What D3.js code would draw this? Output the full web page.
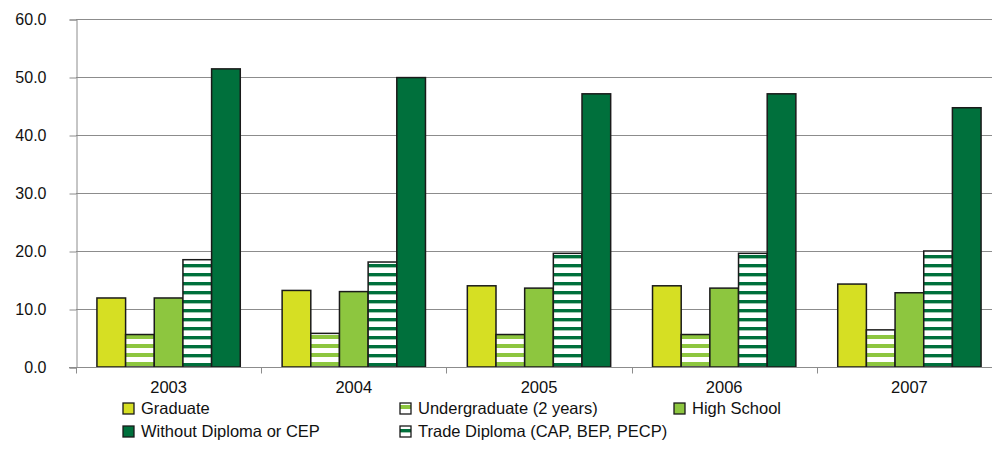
<!DOCTYPE html>
<html>
<head>
<meta charset="utf-8">
<script src="https://cdn.jsdelivr.net/npm/d3@7"></script>
<style>
  body { margin: 0; background: #fff; }
  text { font-family: "Liberation Sans", Arial, sans-serif; fill: #111; }
</style>
</head>
<body>
<script>
// Data
const years = ["2003", "2004", "2005", "2006", "2007"];
const series = ["Graduate", "Undergraduate (2 years)", "High School", "Trade Diploma (CAP, BEP, PECP)", "Without Diploma or CEP"];
const graduate = [11.9, 13.2, 14.0, 14.0, 14.3];
const undergraduate = [5.6, 5.8, 5.6, 5.6, 6.4];
const highSchool = [11.9, 13.0, 13.6, 13.6, 12.8];
const tradeDiploma = [18.5, 18.1, 19.6, 19.6, 20.0];
const withoutDiploma = [51.4, 49.9, 47.1, 47.1, 44.7];
const yTicks = [0, 10, 20, 30, 40, 50, 60];

const values = [graduate, undergraduate, highSchool, tradeDiploma, withoutDiploma];

const width = 992, height = 458;
const svg = d3.select("body").append("svg")
    .attr("width", width)
    .attr("height", height);

// Patterns for the striped series
const defs = svg.append("defs");
const p1 = defs.append("pattern").attr("id", "stripeLight")
    .attr("patternUnits", "userSpaceOnUse").attr("width", 9).attr("height", 9);
p1.append("rect").attr("width", 9).attr("height", 9).attr("fill", "#fff");
p1.append("rect").attr("y", 2).attr("width", 9).attr("height", 4).attr("fill", "#8dc63f");

const p2 = defs.append("pattern").attr("id", "stripeDark")
    .attr("patternUnits", "userSpaceOnUse").attr("width", 9).attr("height", 9);
p2.append("rect").attr("width", 9).attr("height", 9).attr("fill", "#fff");
p2.append("rect").attr("y", 3).attr("width", 9).attr("height", 3).attr("fill", "#00703c");
p2.append("rect").attr("y", 6).attr("width", 9).attr("height", 1).attr("fill", "#9fc9b0");

const fills = ["#d6df23", "url(#stripeLight)", "#8dc63f", "url(#stripeDark)", "#00703c"];

// Scales
const x0 = d3.scaleBand().domain(years).range([76, 1002]).padding(0);
const x1 = d3.scaleBand().domain(series).range([0, x0.bandwidth()])
    .paddingInner(0).paddingOuter(0.73);
const y = d3.scaleLinear().domain([0, 60]).range([367, 19]);

// Grid lines
svg.append("g").selectAll("line")
    .data(yTicks.filter(d => d > 0))
    .enter().append("line")
    .attr("x1", 76).attr("x2", 1002)
    .attr("y1", d => Math.round(y(d)) + 0.5)
    .attr("y2", d => Math.round(y(d)) + 0.5)
    .attr("stroke", "#8c8c8c").attr("stroke-width", 1);

// Y axis
const yAxis = svg.append("g")
    .attr("transform", "translate(76.5,0.5)")
    .call(d3.axisLeft(y).tickValues(yTicks).tickFormat(d3.format(".1f")).tickSize(7).tickPadding(23));
yAxis.select(".domain").attr("stroke", "#8c8c8c");
yAxis.selectAll(".tick line").attr("stroke", "#8c8c8c");
yAxis.selectAll("text").style("font-size", "16px").attr("fill", "#111");

// Bars
const groups = svg.append("g").selectAll("g")
    .data(years)
    .enter().append("g")
    .attr("transform", d => `translate(${x0(d)},0)`);

groups.selectAll("rect")
    .data((d, i) => series.map((s, j) => ({ s: s, j: j, v: values[j][i] })))
    .enter().append("rect")
    .attr("x", d => x1(d.s))
    .attr("y", d => y(d.v))
    .attr("width", x1.bandwidth())
    .attr("height", d => y(0) - y(d.v))
    .attr("fill", d => fills[d.j])
    .attr("stroke", "#1a1a1a")
    .attr("stroke-width", 1.5);

// X axis
const xAxis = svg.append("g")
    .attr("transform", "translate(0,367.5)");
xAxis.append("line")
    .attr("x1", 69).attr("x2", 1002)
    .attr("stroke", "#8c8c8c");
xAxis.selectAll(".xtick")
    .data(years)
    .enter().append("line")
    .attr("class", "xtick")
    .attr("x1", d => Math.round(x0(d)) + 0.5)
    .attr("x2", d => Math.round(x0(d)) + 0.5)
    .attr("y1", 0).attr("y2", 6)
    .attr("stroke", "#8c8c8c");
xAxis.selectAll("text")
    .data(years)
    .enter().append("text")
    .attr("x", d => x0(d) + x0.bandwidth() / 2)
    .attr("y", 25)
    .style("text-anchor", "middle")
    .style("font-size", "16.5px")
    .text(d => d);

// Legend
const legendOrder = [0, 1, 2, 4, 3];
const legendPos = [[123, 403], [400, 403], [674, 403], [123, 426], [400, 426]];
const legend = svg.append("g").selectAll("g")
    .data(legendOrder)
    .enter().append("g")
    .attr("transform", (d, i) => `translate(${legendPos[i][0]},${legendPos[i][1]})`);
legend.append("rect")
    .attr("width", 11).attr("height", 11)
    .attr("fill", d => fills[d])
    .attr("stroke", "#1a1a1a").attr("stroke-width", 1.3);
legend.append("text")
    .attr("x", 18).attr("y", 11)
    .style("font-size", "16.5px")
    .text(d => series[d]);
</script>
</body>
</html>
